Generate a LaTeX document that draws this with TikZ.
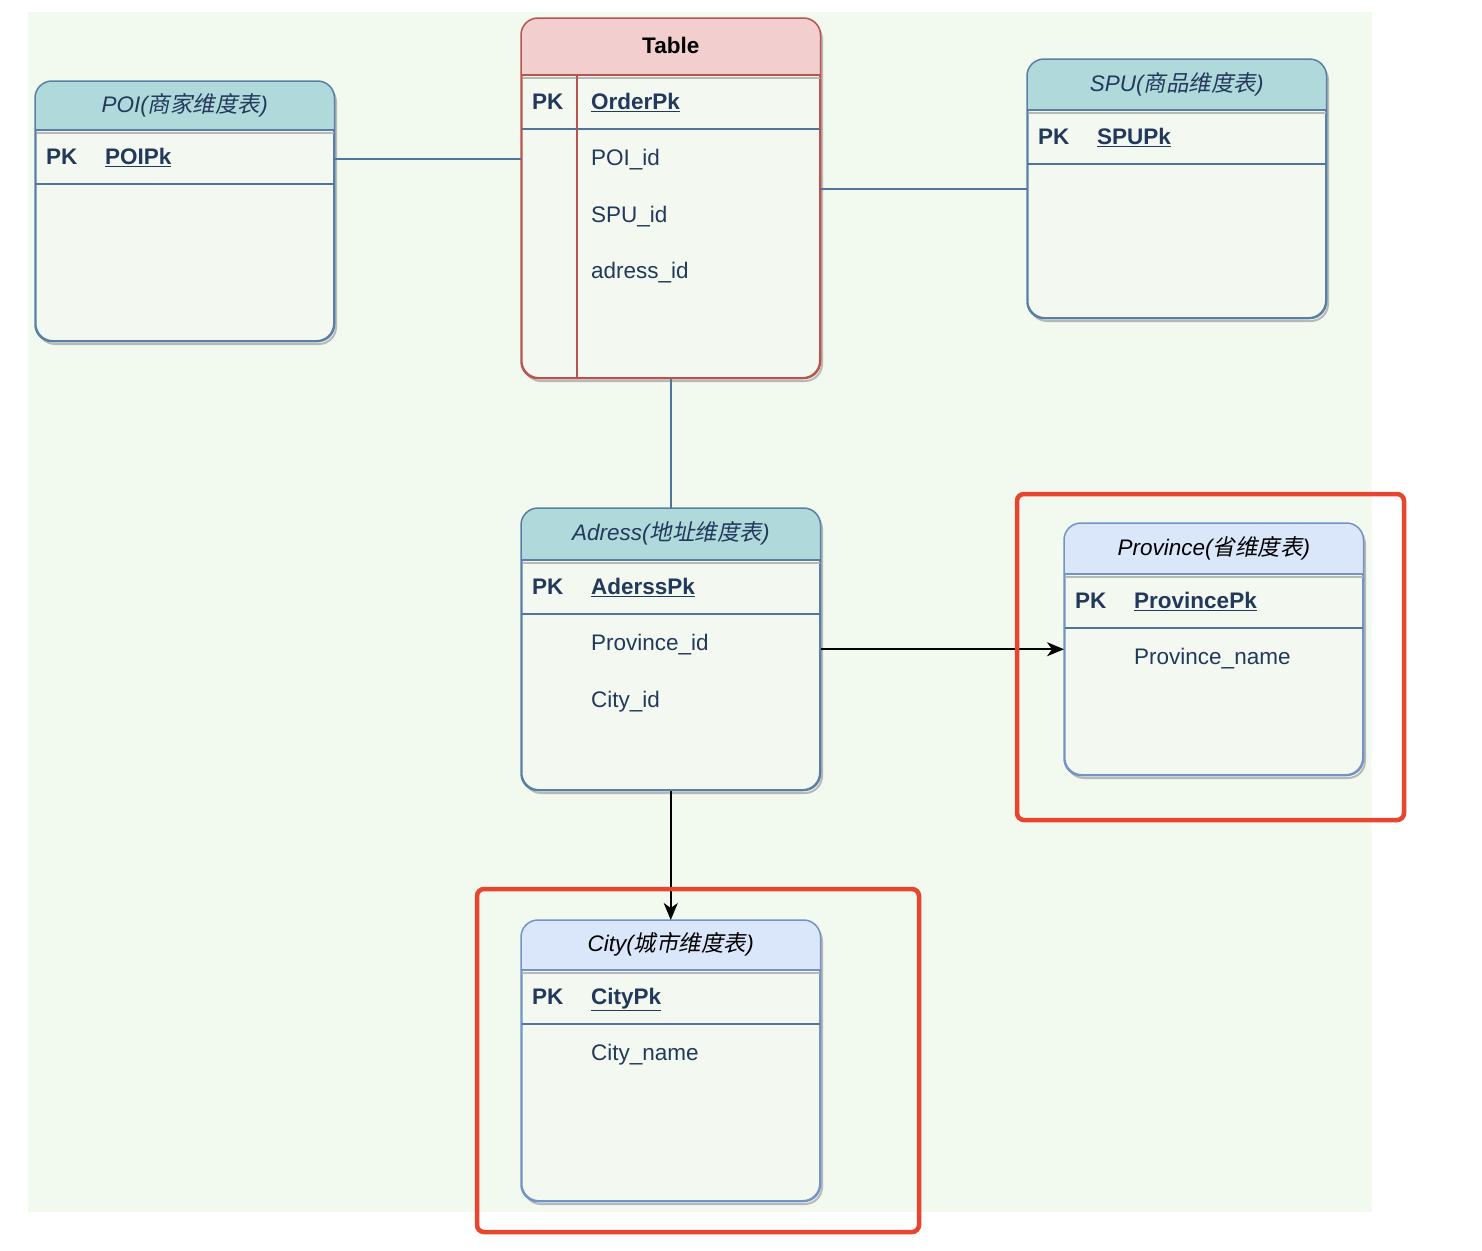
\documentclass[tikz,border=0pt]{standalone}
\usepackage{fontspec}
\setmainfont{Liberation Sans}
\newfontfamily\cjk[AutoFakeSlant=0.2]{Noto Sans CJK SC}
\usetikzlibrary{positioning,arrows.meta}

\definecolor{bggreen}{HTML}{F2F9EE}
\definecolor{bodygreen}{HTML}{F3F9F1}
\definecolor{navy}{HTML}{23395B}
\definecolor{linkblue}{HTML}{50749C}
\definecolor{tealhead}{HTML}{B0D9DB}
\definecolor{tealborder}{HTML}{5A7FA5}
\definecolor{pinkhead}{HTML}{F2CECE}
\definecolor{redborder}{HTML}{B85450}
\definecolor{bluehead}{HTML}{DAE7FB}
\definecolor{blueborder}{HTML}{7393C6}
\definecolor{shadowgray}{HTML}{B8B8B8}
\definecolor{framered}{HTML}{E8442E}

% #1 name, #2 top left, #3 height, #4 header height,
% #5 header fill, #6 border, #7 title, #8 primary key
\newcommand{\ertable}[8]{%
  \node[tableshadow, minimum height=#3pt, anchor=north west] at ([shift={(2pt,-3pt)}]#2) {};
  \node[tablebox, draw=#6, minimum height=#3pt, anchor=north west] (#1) at (#2) {};
  \begin{scope}
    \clip[rounded corners=17pt] (#1.north west) rectangle (#1.south east);
    \fill[#5] (#1.north west) rectangle ([yshift=-#4pt]#1.north east);
  \end{scope}
  \draw[shadowgray, line width=2pt] ([shift={(2pt,-#4pt-3pt)}]#1.north west) -- ([yshift=-#4pt-3pt]#1.north east);
  \draw[#6, line width=1.5pt] ([yshift=-#4pt]#1.north west) -- ([yshift=-#4pt]#1.north east);
  \node[titletext] (#1-title) at ([yshift=-#4pt/2-1pt]#1.north) {#7};
  \node[pktext] (#1-pkl) at ([shift={(11pt,-#4pt-29pt)}]#1.north west) {PK};
  \node[pktext] (#1-pk) at ([shift={(70pt,-#4pt-29pt)}]#1.north west) {\underline{#8}};
  \draw[linkblue, line width=1.5pt] ([yshift=-#4pt-54pt]#1.north west) -- ([yshift=-#4pt-54pt]#1.north east);
  \draw[#6, line width=1.5pt, rounded corners=17pt] (#1.north west) rectangle (#1.south east);
}

\begin{document}
\begin{tikzpicture}
  [x=1pt, y=-1pt,
   every node/.style={font=\fontsize{22.5}{26}\selectfont, text height=16pt, text depth=5pt},
   tablebox/.style={rectangle, rounded corners=17pt, minimum width=298pt,
                    fill=bodygreen, line width=1.5pt, inner sep=0pt},
   tableshadow/.style={tablebox, draw=shadowgray, fill=none, line width=2pt},
   titletext/.style={font=\fontsize{22.5}{26}\selectfont\itshape, text=navy},
   pktext/.style={anchor=west, inner sep=0pt, font=\fontsize{22.5}{26}\selectfont\bfseries, text=navy},
   field/.style={anchor=west, inner sep=0pt, text=navy},
   link/.style={linkblue, line width=1.7pt},
   fk/.style={black, line width=1.7pt, -{Stealth[length=17pt, width=14pt, inset=5pt]}},
   redframe/.style={framered, line width=4.5pt, rounded corners=7pt}
  ]
  \useasboundingbox (0,0) rectangle (1482,1250);
  \fill[bggreen] (28,12) rectangle (1372,1212);

  % dimension tables
  \ertable{poi}{35,81}{259}{49}{tealhead}{tealborder}
    {POI({\cjk 商家维度表})}{POIPk}
  \ertable{spu}{1027,59}{258}{51}{tealhead}{tealborder}
    {SPU({\cjk 商品维度表})}{SPUPk}

  % fact table
  \ertable{tab}{521,18}{359}{57}{pinkhead}{redborder}
    {\upshape\bfseries\color{black}Table}{OrderPk}
  \draw[redborder, line width=1.5pt] ([shift={(56pt,-57pt)}]tab.north west) -- ([xshift=56pt]tab.south west);
  \node[field] (tab-f1) at ([yshift=-56pt]tab-pk.west) {POI\_id};
  \node[field] (tab-f2) at ([yshift=-57pt]tab-f1.west) {SPU\_id};
  \node[field] (tab-f3) at ([yshift=-56pt]tab-f2.west) {adress\_id};

  % address
  \ertable{adr}{521,508}{281}{52}{tealhead}{tealborder}
    {Adress({\cjk 地址维度表})}{AderssPk}
  \node[field] (adr-f1) at ([yshift=-56pt]adr-pk.west) {Province\_id};
  \node[field] (adr-f2) at ([yshift=-57pt]adr-f1.west) {City\_id};

  \ertable{prov}{1064,523}{251}{51}{bluehead}{blueborder}
    {\color{black}Province({\cjk 省维度表})}{ProvincePk}
  \node[field] (prov-f1) at ([yshift=-56pt]prov-pk.west) {Province\_name};

  \ertable{city}{521,920}{280}{50}{bluehead}{blueborder}
    {\color{black}City({\cjk 城市维度表})}{CityPk}
  \node[field] (city-f1) at ([yshift=-56pt]city-pk.west) {City\_name};

  % connectors
  \draw[link] (poi.east |- poi-pk) -- (tab.west |- poi-pk);
  \draw[link] (tab.east |- spu) -- (spu.west);
  \draw[link] (tab.south) -- (adr.north);
  \draw[fk] (adr.east) -- (prov.west |- adr.east);
  \draw[fk] (adr.south) -- (city.north);

  % highlight
  \draw[redframe] (1017,494) rectangle (1404,820);
  \draw[redframe] (477,889) rectangle (919,1232);
\end{tikzpicture}
\end{document}
